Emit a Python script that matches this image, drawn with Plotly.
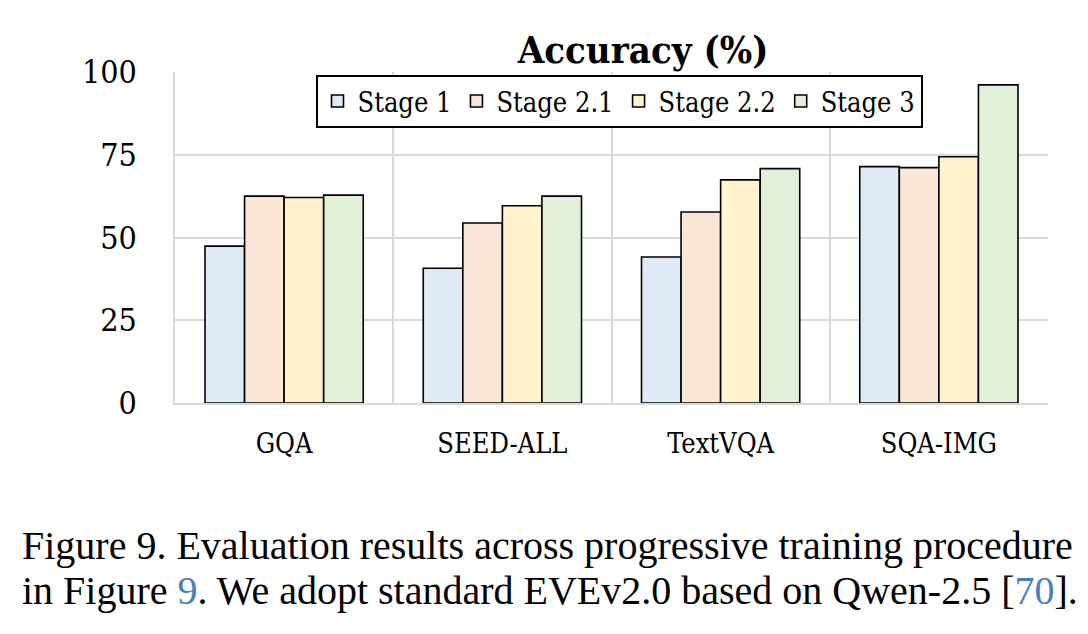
import plotly.graph_objects as go

categories = ["GQA", "SEED-ALL", "TextVQA", "SQA-IMG"]
stages = ["Stage 1", "Stage 2.1", "Stage 2.2", "Stage 3"]
stage1 = [47.4, 40.7, 44.1, 71.4]
stage2_1 = [62.5, 54.4, 57.7, 71.1]
stage2_2 = [62.1, 59.6, 67.4, 74.4]
stage3 = [62.8, 62.5, 70.8, 96.1]
colors = ["#DEEBF7", "#FBE5D6", "#FFF2CC", "#E2F0D9"]
y_ticks = [0, 25, 50, 75, 100]

SERIF = "DejaVu Serif Condensed, DejaVu Serif, serif"
fig = go.Figure()
for name, vals, col in zip(stages, [stage1, stage2_1, stage2_2, stage3], colors):
    fig.add_trace(go.Bar(
        x=categories, y=vals, name=name,
        marker=dict(color=col, line=dict(color="black", width=1.6)),
    ))

OFF = 8  # page body margin
W, H = 1088, 634
L, R, T, B = 175 - OFF, 40 + OFF, 72 - OFF, 231 + OFF
pw = W - L - R
ph = H - T - B


def px_x(x):
    return (x - OFF - L) / pw


def px_y(y):
    return 1 - (y - OFF - T) / ph


fig.update_layout(
    width=W, height=H,
    margin=dict(l=L, r=R, t=T, b=B),
    paper_bgcolor="white", plot_bgcolor="white",
    barmode="group", bargap=0.275, bargroupgap=0,
    title=dict(text="<b>Accuracy (%)</b>", x=px_x(643), xref="paper",
               xanchor="center", y=1 - (50 - OFF) / H, yanchor="middle",
               font=dict(family=SERIF, size=38, color="black")),
    legend=dict(orientation="h", x=px_x(619), xanchor="center",
                y=px_y(75), yanchor="top",
                bgcolor="white", bordercolor="black", borderwidth=2,
                font=dict(family=SERIF, size=27, color="black"),
                itemwidth=30, traceorder="normal"),
    xaxis=dict(type="category", tickson="boundaries", showgrid=True,
               gridcolor="#d9d9d9", gridwidth=1.5, ticks="",
               showline=True, linecolor="#d9d9d9", linewidth=1.5,
               tickfont=dict(family=SERIF, size=27, color="black"),
               ticklabelstandoff=16),
    yaxis=dict(range=[0, 100], tickvals=y_ticks, showgrid=True,
               gridcolor="#d9d9d9", gridwidth=1.5, zeroline=False,
               showline=True, linecolor="#d9d9d9", linewidth=1.5,
               tickfont=dict(family=SERIF, size=32, color="black"),
               ticklabelstandoff=30),
)

blue = "#4A7EBB"
line1 = "Figure 9. Evaluation results across progressive training procedure"
line2 = (f"in Figure <span style='color:{blue}'>9</span>. We adopt standard EVEv2.0 "
         f"based on Qwen-2.5 [<span style='color:{blue}'>70</span>].")
for txt, ypix in [(line1, 545), (line2, 590)]:
    fig.add_annotation(text=txt, xref="paper", yref="paper",
                       x=px_x(20), y=px_y(ypix),
                       xanchor="left", yanchor="middle", showarrow=False,
                       font=dict(family="Liberation Serif, Times New Roman, serif",
                                 size=40, color="black"))

fig.write_html("out.html")
